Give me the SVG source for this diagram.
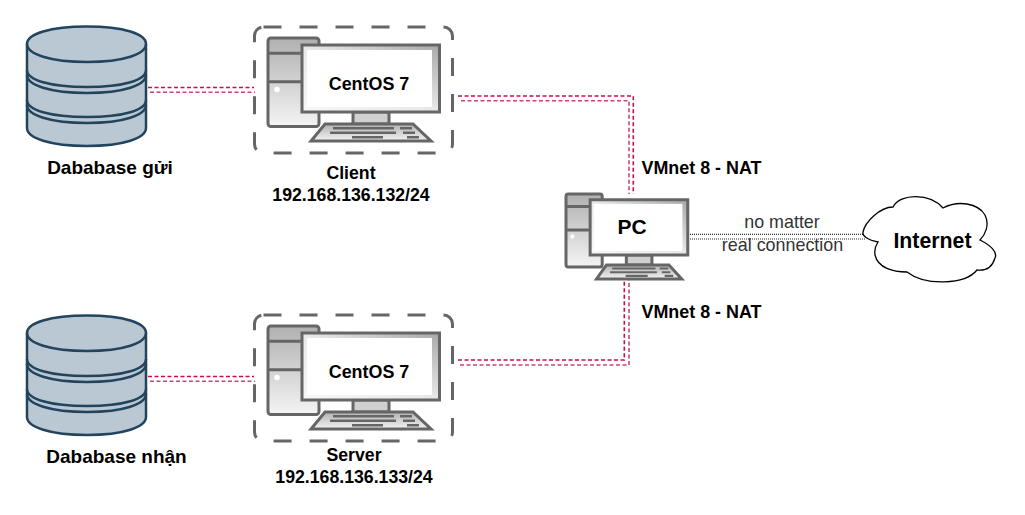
<svg xmlns="http://www.w3.org/2000/svg" width="1025" height="515" viewBox="0 0 1025 515">
<style>
text{font-family:"Liberation Sans",Arial,sans-serif;fill:#000;text-anchor:middle}
.b{font-weight:bold}
.s{font-size:17.700px}
.t{font-size:17.900px}
.o{stroke:#666;stroke-width:3;vector-effect:non-scaling-stroke}
.db{fill:#bac8d3;stroke:#23445d;stroke-width:2.500}
.dbl{fill:none;stroke:#23445d;stroke-width:2.500}
.dash{fill:none;stroke:#666;stroke-width:3;stroke-dasharray:18 18}
.l1{fill:none;stroke:#c2104f;stroke-width:1.600;stroke-dasharray:4 2.500}
.l2{fill:none;stroke:#c9447c;stroke-width:1.600;stroke-dasharray:4 2.500}
.n{fill:none;stroke:#333;stroke-width:1.200;stroke-dasharray:1 1}
</style>
<defs>
<linearGradient id="gt" x1="0" y1="0" x2="0" y2="1"><stop offset="0" stop-color="#b0b0b0"/><stop offset="1" stop-color="#f4f4f4"/></linearGradient>
<linearGradient id="gm" x1="1" y1="0" x2="0" y2="1"><stop offset="0" stop-color="#a8a8a8"/><stop offset="0.5" stop-color="#e8e8e8"/><stop offset="1" stop-color="#f8f8f8"/></linearGradient>
<g id="computer">
<rect class="o" x="268" y="38" width="51" height="88.500" rx="3" fill="url(#gt)"/>
<path class="o" fill="none" d="M268 53.300H302M268 81.700H302"/>
<circle cx="277" cy="89.500" r="2.800" fill="#fff"/>
<rect class="o" x="353" y="112" width="36" height="12" fill="#d0d0d0"/>
<path class="o" d="M325 124H413L431 141H311Z" fill="url(#gt)"/>
<path fill="#666" d="M333 127H394V129.500H333ZM400 127H412V129.500H400ZM330 131.500H396V134H330ZM403 131.500H415V134H403ZM352 136H383V138.500H352ZM407 136H419V138.500H407Z"/>
<rect class="o" x="302" y="45" width="137.500" height="67" fill="url(#gm)"/>
<rect x="307" y="50" width="125" height="57" fill="#fff"/>
</g>
<g id="cyl">
<path class="db" d="M27 44C27 34 50 26.500 87 26.500S146 34 146 44V128C146 138 124 146 87 146S27 138 27 128Z"/>
<path class="dbl" d="M27 44C27 54 50 62 87 62S146 54 146 44M27 70C27 80 50 87 87 87S146 80 146 70M27 75C27 85 50 93 87 93S146 85 146 75M27 100C27 110 50 117 87 117S146 110 146 100M27 105C27 115 50 123 87 123S146 115 146 105"/>
</g>
</defs>
<g id="connectors">
<path class="l1" d="M148 87.500H254"/>
<path class="l2" d="M150 92.300H255"/>
<path class="l1" d="M148 376.500H254"/>
<path class="l2" d="M150 381.300H255"/>
<path class="l1" d="M458 96H633.300V194"/>
<path class="l2" d="M461 100.700H629V194"/>
<path class="l1" d="M458 360H624.300V280"/>
<path class="l2" d="M460 365H629V280"/>
<path class="n" d="M688 234.300H865"/>
<path class="n" d="M688 239H866"/>
</g>
<g id="db-send"><use href="#cyl"/>
<text class="b" x="110" y="174" font-size="19">Dababase gửi</text></g>
<g id="db-recv"><use href="#cyl" y="289"/>
<text class="b" x="116.500" y="463" font-size="19">Dababase nhận</text></g>
<g id="client">
<rect class="dash" x="254.500" y="27" width="198" height="126" rx="9"/>
<use href="#computer"/>
<text class="b t" x="369" y="90">CentOS 7</text>
<text class="b s" x="351" y="179">Client</text>
<text class="b s" x="351" y="201">192.168.136.132/24</text>
</g>
<g id="server">
<rect class="dash" x="254.500" y="315" width="198" height="126" rx="9"/>
<use href="#computer" y="288"/>
<text class="b t" x="369" y="378">CentOS 7</text>
<text class="b s" x="354" y="461">Server</text>
<text class="b s" x="354" y="483">192.168.136.133/24</text>
</g>
<g id="pc">
<use href="#computer" transform="translate(566 194) scale(.71 .825) translate(-268 -38)"/>
<text class="b" x="632" y="234" font-size="21">PC</text>
</g>
<g id="internet">
<path fill="#fff" stroke="#000" stroke-width="1.300" d="M893 207C900 193 930 193 943 208C958 200 978 203 985 215C990 225 985 235 980 240C990 245 998 252 995 258C992 268 985 271 977 270C965 285 925 286 907 272C893 272 878 268 875 255C874 249 876 245 878 242C868 240 862 236 863 232C865 222 880 207 893 207Z"/>
<text class="b" x="932.500" y="248" font-size="21.300">Internet</text>
</g>
<g id="labels">
<text class="b t" x="701.500" y="174">VMnet 8 - NAT</text>
<text class="b t" x="701.500" y="318">VMnet 8 - NAT</text>
<text class="t" x="782" y="228" style="fill:#333">no matter</text>
<text class="t" x="782.500" y="251" style="fill:#333">real connection</text>
</g>
</svg>
